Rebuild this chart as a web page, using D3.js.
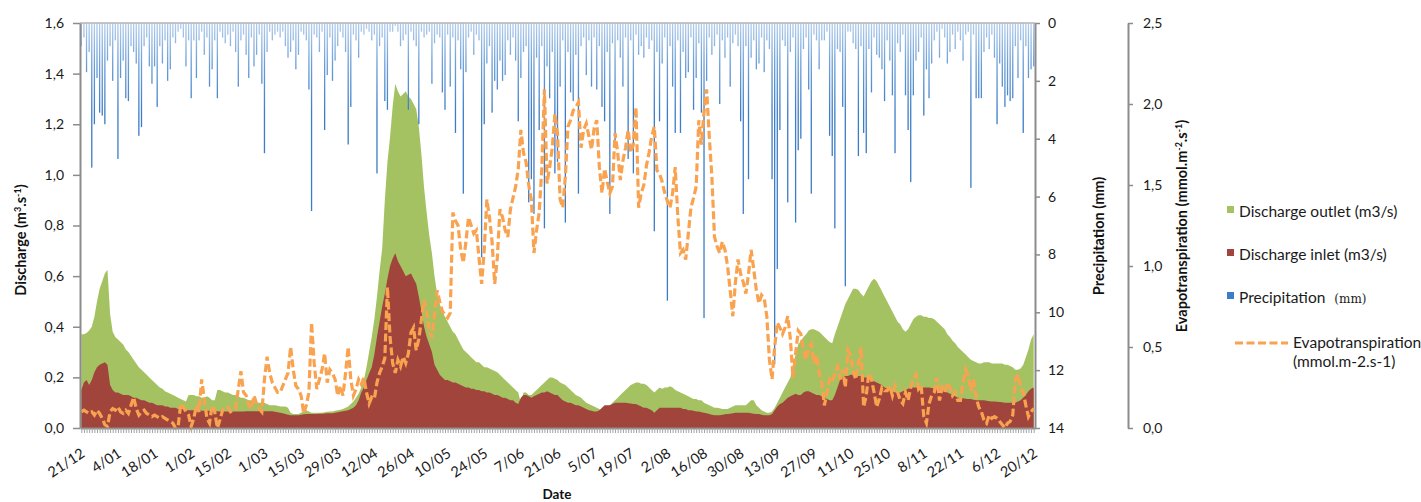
<!DOCTYPE html>
<html>
<head>
<meta charset="utf-8">
<script src="https://cdn.jsdelivr.net/npm/d3@7"></script>
<style>
  body { margin: 0; background: #fff; }
  svg { display: block; font-family: Lato, "Open Sans", sans-serif; }
</style>
</head>
<body>
<div id="chart"></div>
<script>
// Daily series, 21/12 -> 20/12 (365 days), one line = 14 days

const tickLabels = ['21/12','4/01','18/01','1/02','15/02','1/03','15/03','29/03','12/04','26/04','10/05','24/05','7/06',
  '21/06','5/07','19/07','2/08','16/08','30/08','13/09','27/09','11/10','25/10','8/11','22/11','6/12','20/12'];

const dischargeTicks = [0, 0.2, 0.4, 0.6, 0.8, 1.0, 1.2, 1.4, 1.6];
const precipTicks = [0, 2, 4, 6, 8, 10, 12, 14];
const etTicks = [0, 0.5, 1.0, 1.5, 2.0, 2.5];

// discharge outlet (m3/s)
const outlet = [
  0.37,0.37,0.375,0.385,0.40,0.44,0.50,0.55,0.58,0.61,0.625,0.45,0.38,0.36,
  0.35,0.34,0.33,0.31,0.30,0.285,0.27,0.255,0.24,0.23,0.22,0.21,0.20,0.19,
  0.18,0.17,0.16,0.155,0.145,0.14,0.135,0.13,0.125,0.12,0.115,0.11,0.105,0.13,
  0.13,0.13,0.125,0.125,0.12,0.12,0.125,0.12,0.11,0.11,0.15,0.15,0.145,0.14,
  0.14,0.135,0.13,0.13,0.125,0.12,0.12,0.115,0.11,0.11,0.105,0.10,0.10,0.10,
  0.10,0.095,0.09,0.09,0.09,0.088,0.085,0.085,0.085,0.08,0.06,0.055,0.055,0.055,
  0.06,0.065,0.07,0.065,0.06,0.06,0.06,0.06,0.06,0.062,0.064,0.065,0.065,0.068,
  0.07,0.072,0.075,0.08,0.085,0.095,0.105,0.12,0.135,0.16,0.19,0.24,0.30,0.36,
  0.43,0.52,0.62,0.71,0.90,1.05,1.15,1.27,1.36,1.33,1.31,1.32,1.33,1.31,
  1.30,1.28,1.26,1.19,1.08,0.95,0.85,0.76,0.69,0.60,0.53,0.49,0.46,0.44,
  0.42,0.40,0.38,0.37,0.35,0.33,0.31,0.30,0.29,0.28,0.27,0.26,0.26,0.25,
  0.24,0.24,0.235,0.23,0.225,0.22,0.21,0.20,0.19,0.18,0.17,0.16,0.15,0.14,
  0.10,0.14,0.14,0.13,0.13,0.14,0.15,0.16,0.17,0.18,0.19,0.20,0.20,0.195,
  0.19,0.18,0.175,0.17,0.16,0.15,0.14,0.13,0.125,0.12,0.11,0.10,0.095,0.09,
  0.085,0.08,0.075,0.065,0.07,0.08,0.09,0.10,0.11,0.12,0.13,0.14,0.15,0.16,
  0.17,0.175,0.18,0.18,0.175,0.175,0.17,0.16,0.15,0.14,0.15,0.16,0.155,0.16,
  0.16,0.165,0.16,0.15,0.145,0.14,0.135,0.13,0.125,0.12,0.115,0.115,0.11,0.11,
  0.10,0.095,0.09,0.085,0.08,0.08,0.078,0.075,0.075,0.075,0.08,0.085,0.09,0.09,
  0.09,0.09,0.09,0.10,0.11,0.11,0.09,0.08,0.07,0.065,0.06,0.06,0.065,0.08,
  0.10,0.12,0.14,0.16,0.18,0.20,0.25,0.29,0.33,0.345,0.36,0.37,0.385,0.39,
  0.39,0.385,0.38,0.37,0.36,0.35,0.34,0.335,0.37,0.40,0.43,0.46,0.49,0.51,
  0.53,0.55,0.55,0.545,0.53,0.52,0.54,0.56,0.58,0.59,0.58,0.56,0.54,0.52,
  0.50,0.48,0.46,0.44,0.42,0.41,0.39,0.38,0.39,0.41,0.43,0.44,0.445,0.445,
  0.44,0.44,0.435,0.435,0.43,0.42,0.41,0.40,0.39,0.37,0.36,0.345,0.335,0.32,
  0.31,0.30,0.29,0.28,0.27,0.265,0.26,0.255,0.255,0.26,0.26,0.26,0.255,0.255,
  0.255,0.255,0.255,0.25,0.25,0.245,0.24,0.23,0.23,0.235,0.25,0.28,0.31,0.35,
  0.37
];

// discharge inlet (m3/s)
const inlet = [
  0.15,0.18,0.19,0.17,0.19,0.22,0.24,0.25,0.255,0.26,0.25,0.17,0.15,0.14,
  0.14,0.135,0.13,0.13,0.13,0.125,0.12,0.12,0.115,0.11,0.11,0.105,0.10,0.10,
  0.095,0.09,0.09,0.09,0.085,0.085,0.08,0.08,0.08,0.075,0.075,0.075,0.07,0.07,
  0.07,0.07,0.07,0.07,0.068,0.068,0.068,0.068,0.066,0.066,0.066,0.065,0.065,0.065,
  0.065,0.065,0.065,0.065,0.065,0.065,0.065,0.066,0.066,0.066,0.066,0.066,0.066,0.066,
  0.066,0.066,0.066,0.066,0.064,0.062,0.06,0.058,0.055,0.052,0.05,0.05,0.05,0.05,
  0.052,0.054,0.055,0.055,0.055,0.055,0.055,0.056,0.056,0.057,0.058,0.058,0.058,0.06,
  0.062,0.064,0.066,0.068,0.07,0.075,0.08,0.09,0.11,0.14,0.16,0.19,0.215,0.24,
  0.29,0.36,0.42,0.48,0.53,0.59,0.64,0.67,0.69,0.66,0.64,0.62,0.60,0.605,
  0.61,0.59,0.57,0.52,0.46,0.40,0.36,0.33,0.30,0.25,0.23,0.21,0.20,0.19,
  0.19,0.185,0.18,0.18,0.175,0.17,0.165,0.16,0.16,0.155,0.155,0.15,0.15,0.145,
  0.145,0.14,0.14,0.135,0.13,0.13,0.125,0.12,0.12,0.115,0.11,0.11,0.10,0.095,
  0.12,0.13,0.13,0.125,0.12,0.125,0.13,0.135,0.14,0.14,0.145,0.14,0.135,0.13,
  0.13,0.12,0.11,0.105,0.10,0.10,0.095,0.09,0.09,0.085,0.08,0.075,0.07,0.068,
  0.065,0.065,0.07,0.08,0.09,0.09,0.09,0.095,0.10,0.10,0.10,0.10,0.10,0.098,
  0.097,0.095,0.095,0.09,0.085,0.08,0.08,0.075,0.07,0.06,0.07,0.08,0.08,0.08,
  0.08,0.08,0.08,0.08,0.08,0.08,0.075,0.075,0.07,0.07,0.068,0.065,0.065,0.062,
  0.06,0.058,0.055,0.052,0.05,0.05,0.05,0.052,0.054,0.055,0.056,0.058,0.06,0.06,
  0.06,0.06,0.06,0.06,0.058,0.056,0.055,0.055,0.052,0.05,0.05,0.05,0.055,0.07,
  0.085,0.095,0.10,0.11,0.12,0.125,0.13,0.135,0.13,0.13,0.14,0.145,0.145,0.14,
  0.135,0.13,0.13,0.125,0.12,0.115,0.11,0.11,0.13,0.16,0.19,0.20,0.205,0.205,
  0.21,0.21,0.205,0.205,0.205,0.20,0.20,0.195,0.19,0.185,0.18,0.175,0.17,0.16,
  0.155,0.15,0.145,0.14,0.14,0.14,0.145,0.15,0.155,0.16,0.16,0.16,0.16,0.16,
  0.16,0.16,0.16,0.158,0.156,0.155,0.155,0.15,0.145,0.14,0.135,0.13,0.125,0.12,
  0.12,0.118,0.116,0.115,0.115,0.112,0.11,0.11,0.11,0.11,0.108,0.106,0.105,0.105,
  0.104,0.103,0.102,0.10,0.10,0.10,0.10,0.10,0.105,0.11,0.12,0.13,0.145,0.155,
  0.16
];

// precipitation (mm)
const precip = [
  0.8,0.5,1.7,1.0,5.0,3.5,1.9,3.1,3.2,3.5,1.3,0.8,2.0,0.6,
  4.7,1.9,1.3,2.6,2.7,0.8,1.0,1.4,3.9,3.6,0.8,0.5,1.5,2.1,
  1.5,2.9,0.8,1.4,0.6,2.0,1.6,0.5,0.7,0.3,0.2,0.5,1.5,0.6,
  2.6,0.6,1.9,0.6,0.3,1.1,0.5,2.2,1.6,0.6,2.6,0.3,0.5,0.7,
  0.4,0.8,0.3,1.0,2.2,0.6,0.4,1.1,1.9,0.5,1.5,1.1,0.4,2.1,
  4.5,1.0,0.3,0.6,0.4,0.3,0.5,0.3,0.8,1.2,1.0,0.6,1.6,1.1,
  0.3,0.4,0.6,2.3,6.5,0.4,0.5,1.0,0.3,3.7,1.8,0.5,2.0,1.3,
  0.8,0.3,0.5,1.0,4.2,2.9,0.4,0.6,1.2,0.3,0.4,0.2,0.3,0.6,
  0.4,5.2,0.8,0.5,2.7,3.0,0.3,0.3,0.1,0.3,0.8,0.6,0.4,3.0,
  0.3,0.6,0.8,3.5,0.3,0.5,0.4,0.3,2.1,0.7,0.4,0.5,2.4,3.0,
  0.4,2.2,0.5,3.8,0.6,1.6,5.9,1.7,0.5,0.3,1.1,0.4,0.6,8.1,
  3.5,1.4,0.8,3.1,2.0,2.3,1.3,2.0,1.8,0.6,1.1,0.5,1.3,3.4,
  1.9,1.0,0.8,6.2,5.4,6.6,1.2,3.7,0.8,7.1,1.5,2.6,1.0,5.2,
  4.8,2.2,0.6,6.9,1.0,2.4,2.7,1.1,5.9,0.8,0.5,1.8,0.6,2.2,
  0.5,2.3,0.8,2.9,3.4,1.0,6.6,0.7,4.3,0.6,1.2,2.2,0.5,4.7,
  0.6,5.2,0.4,1.1,0.8,1.2,0.5,0.9,0.6,7.2,1.0,3.4,1.4,0.5,
  9.6,0.8,2.2,3.8,0.6,3.8,1.0,1.9,1.7,0.5,3.0,1.9,0.7,3.1,
  10.2,2.0,0.5,1.1,0.8,0.4,2.8,0.6,1.2,0.5,2.2,0.7,0.4,0.8,
  3.4,6.6,0.8,5.4,1.2,0.6,1.6,1.4,0.5,1.7,0.6,0.9,5.4,11.8,
  8.5,3.7,0.6,0.8,6.2,1.0,0.5,6.9,4.4,4.0,0.9,0.5,2.3,5.9,
  0.4,0.6,1.6,0.6,0.6,0.3,3.9,4.6,7.1,0.9,1.0,2.9,9.1,0.3,
  0.3,0.7,0.9,4.6,0.8,3.8,4.5,0.9,2.4,0.5,1.1,1.2,1.6,2.7,
  0.6,1.3,2.5,4.5,0.7,1.0,0.4,2.5,3.7,5.5,2.5,1.3,1.0,0.5,
  3.2,1.6,2.6,1.4,0.6,0.3,1.2,0.2,0.5,1.4,1.0,0.4,0.9,0.3,
  0.6,1.3,0.4,0.3,5.7,0.4,2.6,2.6,2.6,1.0,0.5,0.9,0.4,1.2,
  3.5,1.4,2.2,2.9,2.5,2.7,2.6,0.8,1.9,0.6,3.8,0.8,1.9,1.6,
  1.5
];

// evapotranspiration (mmol.m-2.s-1)
const et = [
  0.10,0.11,0.10,0.09,0.10,0.08,0.11,0.09,0.06,0.02,0.01,0.10,0.12,0.11,
  0.13,0.10,0.09,0.11,0.09,0.14,0.19,0.12,0.08,0.10,0.11,0.09,0.08,0.07,
  0.08,0.07,0.06,0.07,0.06,0.05,0.04,0.03,0.0,0.01,0.15,0.13,0.10,0.08,
  0.01,0.06,0.14,0.10,0.30,0.18,0.06,0.03,0.14,0.10,0.0,0.05,0.11,0.12,
  0.13,0.10,0.11,0.12,0.24,0.35,0.22,0.20,0.14,0.12,0.20,0.15,0.12,0.10,
  0.30,0.44,0.34,0.28,0.25,0.22,0.22,0.26,0.30,0.34,0.50,0.36,0.26,0.24,
  0.20,0.09,0.14,0.22,0.65,0.40,0.24,0.30,0.36,0.46,0.28,0.36,0.34,0.30,
  0.20,0.26,0.20,0.34,0.50,0.30,0.20,0.24,0.30,0.27,0.31,0.22,0.15,0.19,
  0.18,0.28,0.34,0.38,0.43,0.87,0.56,0.40,0.34,0.42,0.38,0.44,0.40,0.46,
  0.59,0.62,0.48,0.55,0.67,0.79,0.72,0.60,0.56,0.70,0.85,0.78,0.72,0.70,
  0.68,0.71,1.33,1.28,1.25,1.10,1.02,1.15,1.30,1.25,1.20,1.22,1.05,0.89,
  1.10,1.41,1.30,1.15,0.89,1.05,1.35,1.30,1.22,1.18,1.35,1.42,1.49,1.60,
  1.84,1.70,1.64,1.50,1.41,1.08,1.22,1.33,1.60,2.09,1.51,1.61,1.73,1.94,
  1.82,1.41,1.36,1.55,1.86,1.90,1.96,1.98,2.01,1.73,1.84,1.88,1.80,1.72,
  1.85,1.90,1.61,1.45,1.60,1.52,1.45,1.49,1.82,1.70,1.53,1.65,1.73,1.84,
  1.70,1.75,1.98,1.36,1.45,1.50,1.62,1.70,1.80,1.86,1.59,1.57,1.52,1.45,
  1.40,1.36,1.45,1.61,1.30,1.08,1.10,1.04,1.20,1.36,1.42,1.49,1.90,1.75,
  1.95,2.09,1.80,1.55,1.18,1.12,1.08,1.15,1.10,1.00,0.85,0.69,0.90,1.04,
  0.95,0.90,0.83,0.95,1.10,0.98,0.85,0.77,0.82,0.80,0.69,0.42,0.30,0.50,
  0.65,0.62,0.58,0.62,0.69,0.55,0.31,0.46,0.60,0.58,0.48,0.42,0.50,0.52,
  0.40,0.45,0.34,0.28,0.14,0.22,0.30,0.28,0.34,0.38,0.30,0.36,0.25,0.48,
  0.45,0.35,0.30,0.40,0.50,0.13,0.20,0.34,0.30,0.22,0.13,0.18,0.25,0.23,
  0.23,0.26,0.20,0.26,0.22,0.17,0.15,0.22,0.17,0.25,0.30,0.33,0.24,0.26,
  0.07,0.03,0.15,0.20,0.22,0.31,0.17,0.25,0.22,0.28,0.25,0.20,0.22,0.17,
  0.17,0.28,0.36,0.32,0.23,0.30,0.19,0.13,0.10,0.05,0.03,0.08,0.06,0.07,
  0.06,0.04,0.02,0.0,0.03,0.04,0.08,0.30,0.33,0.25,0.22,0.14,0.07,0.10,
  0.12
];

const colors = { outlet: '#a5c263', inlet: '#a0443c', precip: '#3d7cc6', et: '#f9a24f', axis: '#8c8c8c' };

const width = 1421, height = 502;
const plot = { left: 80, right: 1035, top: 23, bottom: 428 };
const days = d3.range(outlet.length);
const comma = d => d3.format('.1f')(d).replace('.', ',');

const svg = d3.select('#chart').append('svg')
  .attr('width', width)
  .attr('height', height);

const x = d3.scaleLinear().domain([-0.5, days.length - 0.5]).range([plot.left, plot.right]);
const yQ = d3.scaleLinear().domain([0, 1.6]).range([plot.bottom, plot.top]);
const yP = d3.scaleLinear().domain([0, 14]).range([plot.top, plot.bottom]);
const yE = d3.scaleLinear().domain([0, 2.5]).range([plot.bottom, plot.top]);

// bar gradient (light at the top, as in the original)
const grad = svg.append('defs').append('linearGradient')
  .attr('id', 'pgrad')
  .attr('gradientUnits', 'userSpaceOnUse')
  .attr('x1', 0).attr('y1', plot.top).attr('x2', 0).attr('y2', plot.top + 90);
grad.append('stop').attr('offset', 0).attr('stop-color', '#b3cdec');
grad.append('stop').attr('offset', 0.45).attr('stop-color', '#6c9fd8');
grad.append('stop').attr('offset', 1).attr('stop-color', colors.precip);

// areas
const area = (vals) => d3.area()
  .x(i => x(i))
  .y0(yQ(0))
  .y1(i => yQ(vals[i]));

svg.append('path')
  .datum(days)
  .attr('fill', colors.outlet)
  .attr('d', area(outlet));

svg.append('path')
  .datum(days)
  .attr('fill', colors.inlet)
  .attr('d', area(inlet));

// precipitation bars hanging from the top
const bw = (x(1) - x(0)) * 0.5;
svg.append('g')
  .selectAll('rect')
  .data(days)
  .join('rect')
  .attr('x', i => x(i) - bw / 2)
  .attr('y', yP(0))
  .attr('width', bw)
  .attr('height', i => yP(precip[i]) - yP(0))
  .attr('fill', 'url(#pgrad)');

// evapotranspiration
svg.append('path')
  .datum(days)
  .attr('fill', 'none')
  .attr('stroke', colors.et)
  .attr('stroke-width', 3.2)
  .attr('stroke-dasharray', '8,3.5')
  .attr('d', d3.line().x(i => x(i)).y(i => yE(et[i])));

// top frame line
svg.append('line')
  .attr('x1', plot.left).attr('x2', plot.right)
  .attr('y1', plot.top).attr('y2', plot.top)
  .attr('stroke', '#b5b5b5')
  .attr('stroke-width', 1.5);

function styleAxis(g) {
  g.select('.domain').attr('stroke', colors.axis).attr('stroke-width', 2);
  g.selectAll('.tick line').attr('stroke', colors.axis).attr('stroke-width', 1.5);
  g.selectAll('text').attr('fill', '#1a1a1a').attr('font-size', 14).attr('font-family', 'Lato, sans-serif');
}

// bottom: one small tick per day
svg.append('g')
  .attr('transform', `translate(0,${plot.bottom})`)
  .call(d3.axisBottom(x).tickValues(days).tickSizeInner(5).tickSizeOuter(0).tickFormat(''))
  .call(styleAxis)
  .call(g => g.selectAll('.tick line').attr('stroke', '#a3a3a3').attr('stroke-width', 1));

// bottom labels every 14 days
svg.append('g')
  .attr('transform', `translate(0,${plot.bottom})`)
  .call(d3.axisBottom(x).tickValues(tickLabels.map((d, k) => k * 14)).tickSize(0).tickFormat((d, k) => tickLabels[k]))
  .call(g => g.select('.domain').remove())
  .call(styleAxis)
  .selectAll('text')
  .attr('y', 0)
  .attr('dy', 0)
  .attr('font-size', 14.5)
  .attr('text-anchor', 'end')
  .attr('transform', 'translate(4,28) rotate(-33)');

svg.append('g')
  .attr('transform', `translate(${plot.left},0)`)
  .call(d3.axisLeft(yQ).tickValues(dischargeTicks).tickFormat(comma).tickSize(7).tickPadding(9).tickSizeOuter(0))
  .call(styleAxis);

svg.append('g')
  .attr('transform', `translate(${plot.right},0)`)
  .call(d3.axisRight(yP).tickValues(precipTicks).tickSize(5).tickPadding(8).tickSizeOuter(0))
  .call(styleAxis);

svg.append('g')
  .attr('transform', 'translate(1128,0)')
  .call(d3.axisRight(yE).tickValues(etTicks).tickFormat(comma).tickSize(5).tickPadding(10).tickSizeOuter(0))
  .call(styleAxis);

// axis titles
function rotTitle(cx, cy, parts) {
  const t = svg.append('text')
    .attr('transform', `translate(${cx},${cy}) rotate(-90)`)
    .attr('text-anchor', 'middle')
    .attr('font-size', 14.5)
    .attr('font-weight', 700)
    .attr('fill', '#111');
  parts.forEach(p => {
    const s = t.append('tspan').text(p[0]);
    if (p[1]) s.attr('baseline-shift', 'super').attr('font-size', 9);
  });
}
rotTitle(26, 240, [['Discharge (m'], ['3', 1], ['.s'], ['-1', 1], [')']]);
rotTitle(1104, 236, [['Precipitation (mm)']]);
rotTitle(1187, 226, [['Evapotranspiration (mmol.m'], ['-2', 1], ['.s'], ['-1', 1], [')']]);

svg.append('text')
  .attr('x', 557).attr('y', 499)
  .attr('text-anchor', 'middle')
  .attr('font-size', 13.5)
  .attr('font-weight', 700)
  .attr('fill', '#111')
  .text('Date');

// legend
const legend = svg.append('g').attr('font-size', 15.5).attr('fill', '#1a1a1a');
[['Discharge outlet (m3/s)', colors.outlet, 217],
 ['Discharge inlet (m3/s)', colors.inlet, 260]].forEach(([label, c, yb]) => {
  legend.append('rect').attr('x', 1227).attr('y', yb - 11).attr('width', 7).attr('height', 7).attr('fill', c);
  legend.append('text').attr('x', 1239).attr('y', yb).text(label);
});
legend.append('rect').attr('x', 1227).attr('y', 292).attr('width', 7).attr('height', 7).attr('fill', colors.precip);
const pl = legend.append('text').attr('x', 1239).attr('y', 303);
pl.append('tspan').text('Precipitation');
pl.append('tspan').attr('dx', 9).attr('font-family', '"DejaVu Serif", serif').attr('font-size', 12).text('(mm)');

legend.append('line')
  .attr('x1', 1235).attr('x2', 1288).attr('y1', 343).attr('y2', 343)
  .attr('stroke', colors.et).attr('stroke-width', 3).attr('stroke-dasharray', '8,3.5');
legend.append('text').attr('x', 1293).attr('y', 348).text('Evapotranspiration');
legend.append('text').attr('x', 1293).attr('y', 367).text('(mmol.m-2.s-1)');
</script>
</body>
</html>
